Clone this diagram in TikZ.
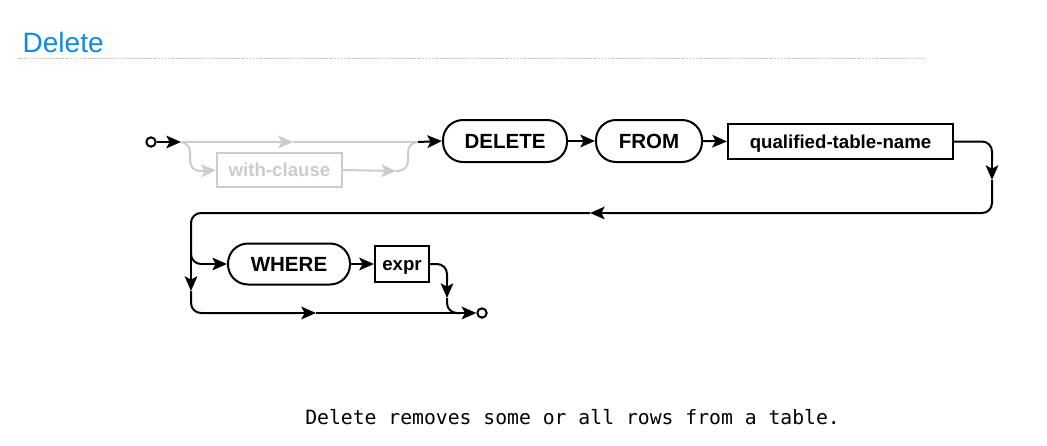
\documentclass[tikz,border=0pt]{standalone}
\usepackage{fontspec}
\setmainfont{Liberation Sans}
\setmonofont{DejaVu Sans Mono}
\usetikzlibrary{arrows.meta}
\definecolor{titleblue}{RGB}{19,137,224}
\definecolor{offgray}{RGB}{204,204,204}
\definecolor{rulegray}{RGB}{190,190,190}

\begin{document}
\begin{tikzpicture}[x=0.75pt,y=-0.75pt,
	ln/.style={line width=1.5pt},
	rr/.style={line width=1.5pt,rounded corners=7.5pt},
	tip/.style={-{Stealth[length=11pt,width=9.5pt,inset=2.5pt]}},
	kw/.style={draw,line width=1.5pt,rounded corners=15pt,inner sep=0pt,minimum height=31.5pt,font=\fontsize{15.4}{18}\selectfont\bfseries},
	nt/.style={draw,line width=1.6pt,inner sep=0pt,text height=10pt,text depth=0pt,font=\fontsize{14}{16}\selectfont\bfseries},
	dot/.style={draw,circle,line width=1.5pt,inner sep=0pt,minimum size=7pt}]
					\useasboundingbox (0,0) rectangle (1047,446);
					\path (18,52) node[anchor=base west,text=titleblue,font=\fontsize{21}{24}\selectfont] (title) {Delete};
					\draw[rulegray,line width=0.6pt,dash pattern=on 1.2pt off 1pt] (18,58) -- (925,58);
					
					\node[dot] (start) at (151,142) {};
					\node[kw,minimum width=93pt] (delete) at (505,141) {DELETE};
					\node[kw,minimum width=79.5pt] (from) at (649,141) {FROM};
					\node[nt,minimum width=168.75pt,minimum height=26.25pt] (qtn) at (840.5,141.5) {qualified-table-name};
					\node[nt,offgray,minimum width=93.75pt,minimum height=25.5pt] (with) at (279.5,170) {with-clause};
					\node[kw,minimum width=91.5pt,minimum height=30.75pt] (where) at (289,264) {WHERE};
					\node[nt,minimum width=40.5pt,minimum height=27pt] (expr) at (402,264) {expr};
					\node[dot] (stop) at (482,313) {};
					
					\coordinate (split) at (181,142);
					\coordinate (join) at (418,142);
					\coordinate (branch) at (191,252);
					\coordinate (merge) at (460,313);
					
					\draw[ln,tip] (start) -- (split);
					\draw[ln,offgray,tip] (split) -- (293,142);
					\draw[ln,offgray] (293,142) -- (join);
					\draw[rr,offgray] (split) -| (190,171) -- (200,171);
					\draw[ln,offgray,tip] (200,171) -- (with.west);
					\draw[ln,offgray,tip] (with.east) -- (396,171);
					\draw[rr,offgray] (396,171) -| (408,142) -- (join);
					\draw[ln,tip] (join) -- (delete.west);
					\draw[ln,tip] (delete.east) -- (from.west);
					\draw[ln,tip] (from.east) -- (qtn.west);
					
					\draw[rr] (qtn.east) -| (992,162);
					\draw[ln,tip] (992,162) -- (992,180);
					\draw[rr] (992,180) |- (606,213);
					\draw[ln,tip] (606,213) -- (590,213);
					\draw[rr] (590,213) -| (branch);
					\draw[rr] (branch) |- (202,264);
					\draw[ln,tip] (202,264) -- (where.west);
					\draw[ln,tip] (where.east) -- (expr.west);
					\draw[rr] (expr.east) -| (447,282);
					\draw[ln,tip] (447,282) -- (447,298);
					\draw[rr] (447,298) |- (merge);
					\draw[ln,tip] (branch) -- (191,291);
					\draw[rr] (191,291) |- (300,313);
					\draw[ln,tip] (300,313) -- (316,313);
					\draw[ln] (316,313) -- (merge);
					\draw[ln,tip] (merge) -- (stop.west);
					
					\path (305,424) node[anchor=base west,inner sep=0pt,font=\fontsize{14.8}{18}\selectfont\ttfamily] (caption) {Delete removes some or all rows from a table.};
\end{tikzpicture}
\end{document}
